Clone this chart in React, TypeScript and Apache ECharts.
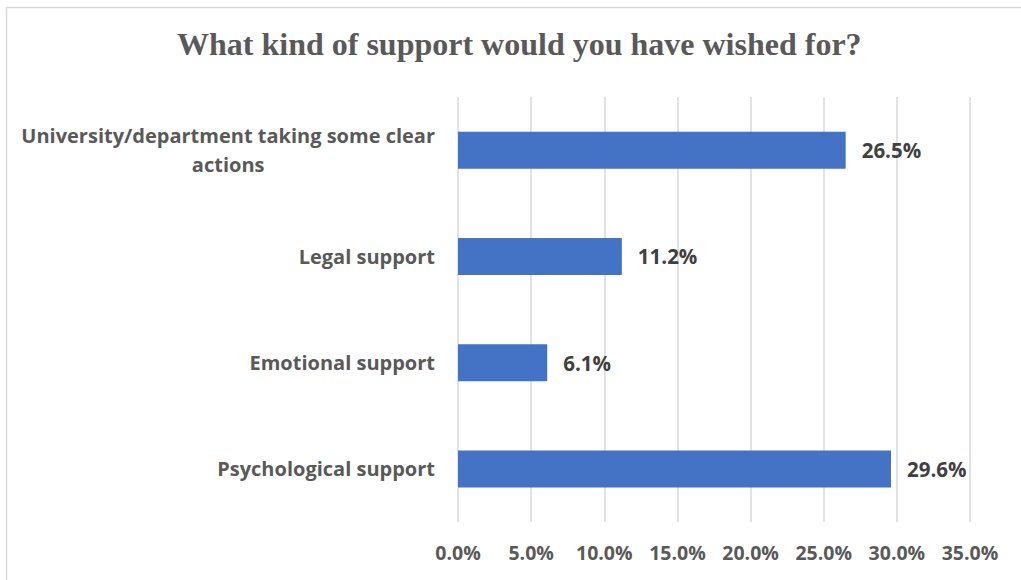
import React, { useEffect, useRef } from "react";
import * as echarts from "echarts";

const title = "What kind of support would you have wished for?";
const categories = [
  "Psychological support",
  "Emotional support",
  "Legal support",
  "University/department taking some clear actions",
];
const values = [29.6, 6.1, 11.2, 26.5];
const xTicks = [0, 5, 10, 15, 20, 25, 30, 35];

const LONG = "University/department taking some clear actions";
const FONT = "Open Sans";

export default function App() {
  const ref = useRef<HTMLDivElement>(null);
  useEffect(() => {
    document.body.style.margin = "0";
    const chart = echarts.init(ref.current!, null, { renderer: "svg" });
    chart.setOption({
      animation: false,
      backgroundColor: "#ffffff",
      title: {
        text: title,
        left: 172,
        top: 23,
        textStyle: {
          fontFamily: "Liberation Serif",
          fontWeight: "bold",
          fontSize: 32,
          color: "#595959",
        },
      },
      graphic: [
        {
          type: "rect",
          shape: { x: 6.5, y: 7.5, width: 1030, height: 600 },
          style: { fill: "none", stroke: "#d9d9d9", lineWidth: 1.5 },
          silent: true,
        },
      ],
      grid: { left: 458, right: 51, top: 97, bottom: 58 },
      xAxis: {
        type: "value",
        min: xTicks[0],
        max: xTicks[xTicks.length - 1],
        interval: 5,
        axisLine: { show: false },
        axisTick: { show: false },
        splitLine: { show: true, lineStyle: { color: "#d9d9d9", width: 1.5 } },
        axisLabel: {
          margin: 20,
          formatter: (v: number) => v.toFixed(1) + "%",
          fontFamily: FONT,
          fontWeight: "bold",
          fontSize: 19.5,
          color: "#595959",
        },
      },
      yAxis: {
        type: "category",
        data: categories,
        axisLine: { show: false },
        axisTick: { show: false },
        axisLabel: {
          margin: 23,
          fontFamily: FONT,
          fontWeight: "bold",
          fontSize: 20,
          color: "#595959",
          formatter: (v: string) =>
            v === LONG
              ? "{c|University/department taking some clear}\n{c|actions}"
              : v,
          rich: {
            c: {
              align: "center",
              fontFamily: FONT,
              fontWeight: "bold",
              fontSize: 20,
              color: "#595959",
              lineHeight: 29,
            },
          },
        },
      },
      series: [
        {
          type: "bar",
          data: values,
          barWidth: 37,
          itemStyle: { color: "#4472C4" },
          label: {
            show: true,
            position: "right",
            distance: 16,
            formatter: (p: any) => p.value.toFixed(1) + "%",
            fontFamily: FONT,
            fontWeight: "bold",
            fontSize: 20.5,
            color: "#404040",
          },
        },
      ],
    });
    return () => chart.dispose();
  }, []);
  return <div ref={ref} style={{ width: 1021, height: 580 }} />;
}
